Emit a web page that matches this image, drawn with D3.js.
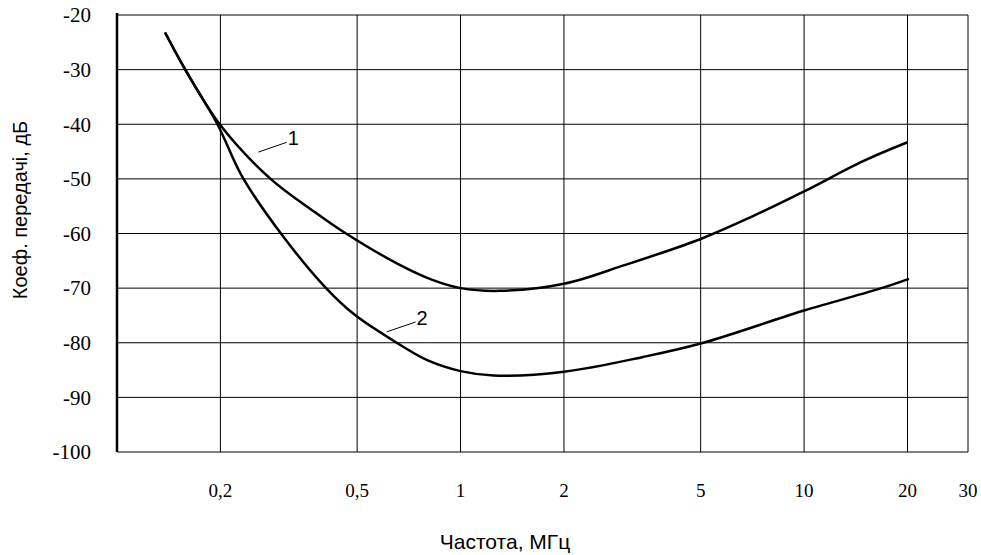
<!DOCTYPE html>
<html>
<head>
<meta charset="utf-8">
<script src="https://cdn.jsdelivr.net/npm/d3@7"></script>
<style>
  body { margin: 0; background: #fff; }
  svg { display: block; }
</style>
</head>
<body>
<svg width="981" height="555"></svg>
<script>
// frequency, MHz / transfer coefficient, dB
var freq1 = [0.138, 0.158, 0.199, 0.28, 0.379, 0.464, 0.663, 0.828, 1.0, 1.3, 2.0, 3.0, 5.0, 7.0, 10.0, 14.8, 20.0];
var gain1 = [-23.2, -30, -40, -50, -56.2, -60, -65.7, -68.5, -70, -70.5, -69.2, -65.8, -61.0, -57.0, -52.3, -46.8, -43.3];

var freq2 = [0.138, 0.158, 0.196, 0.231, 0.30, 0.406, 0.49, 0.633, 0.8, 1.0, 1.25, 2.0, 3.4, 5.03, 10.0, 16.8, 20.2];
var gain2 = [-23.2, -30, -40, -49.5, -60, -70, -74.8, -79.5, -83.2, -85.2, -86.0, -85.3, -82.6, -80.1, -74.1, -70, -68.3];

var xTicks = [0.2, 0.5, 1, 2, 5, 10, 20, 30];
var xTickLabels = ["0,2", "0,5", "1", "2", "5", "10", "20", "30"];
var yTicks = [-20, -30, -40, -50, -60, -70, -80, -90, -100];

var svg = d3.select("svg"),
    m = { left: 117, right: 968, top: 15, bottom: 452 };

var x = d3.scaleLog().domain([0.1, 30]).range([m.left, m.right]);
var y = d3.scaleLinear().domain([-100, -20]).range([m.bottom, m.top]);

// grid
svg.append("g")
  .selectAll("line")
  .data(yTicks)
  .enter()
  .append("line")
    .attr("x1", m.left).attr("x2", m.right)
    .attr("y1", function(d) { return y(d); })
    .attr("y2", function(d) { return y(d); })
    .attr("stroke", "#000").attr("stroke-width", 1);

svg.append("g")
  .selectAll("line")
  .data(xTicks)
  .enter()
  .append("line")
    .attr("x1", function(d) { return x(d); })
    .attr("x2", function(d) { return x(d); })
    .attr("y1", m.top).attr("y2", m.bottom)
    .attr("stroke", "#000").attr("stroke-width", 1);

// left axis, heavier
svg.append("line")
  .attr("x1", m.left).attr("x2", m.left)
  .attr("y1", m.top - 2).attr("y2", m.bottom)
  .attr("stroke", "#000").attr("stroke-width", 2.5);

// tick labels
svg.append("g")
  .selectAll("text")
  .data(yTicks)
  .enter()
  .append("text")
    .attr("x", 91)
    .attr("y", function(d) { return y(d); })
    .attr("dy", "0.35em")
    .attr("text-anchor", "end")
    .style("font-family", "'Liberation Serif', 'Times New Roman', serif")
    .style("font-size", "21px")
    .text(function(d) { return d; });

svg.append("g")
  .selectAll("text")
  .data(xTicks)
  .enter()
  .append("text")
    .attr("x", function(d) { return x(d); })
    .attr("y", 490)
    .attr("dy", "0.35em")
    .attr("text-anchor", "middle")
    .style("font-family", "'Liberation Serif', 'Times New Roman', serif")
    .style("font-size", "19px")
    .text(function(d, i) { return xTickLabels[i]; });

// axis titles
svg.append("text")
  .attr("x", 505).attr("y", 549)
  .attr("text-anchor", "middle")
  .style("font-family", "'Liberation Sans', Arial, sans-serif")
  .style("font-size", "21px")
  .text("Частота, МГц");

svg.append("text")
  .attr("transform", "translate(27,210) rotate(-90)")
  .attr("text-anchor", "middle")
  .style("font-family", "'Liberation Sans', Arial, sans-serif")
  .style("font-size", "20px")
  .text("Коеф. передачі, дБ");

// curves
var line = d3.line()
  .x(function(d) { return x(d[0]); })
  .y(function(d) { return y(d[1]); })
  .curve(d3.curveCatmullRom.alpha(0.5));

[[freq1, gain1], [freq2, gain2]].forEach(function(s) {
  svg.append("path")
    .datum(d3.zip(s[0], s[1]))
    .attr("d", line)
    .attr("fill", "none")
    .attr("stroke", "#000")
    .attr("stroke-width", 2.5);
});

// curve labels with leader lines
var labels = [
  { name: "1", f: 0.258, g: -45.1, f2: 0.312, g2: -43.3 },
  { name: "2", f: 0.61, g: -78.0, f2: 0.74, g2: -76.2 }
];
labels.forEach(function(d) {
  svg.append("line")
    .attr("x1", x(d.f)).attr("y1", y(d.g))
    .attr("x2", x(d.f2)).attr("y2", y(d.g2))
    .attr("stroke", "#000").attr("stroke-width", 1);
  svg.append("text")
    .attr("x", x(d.f2) + 1).attr("y", y(d.g2) + 3)
    .style("font-family", "'Liberation Sans', Arial, sans-serif")
    .style("font-size", "20px")
    .text(d.name);
});
</script>
</body>
</html>
